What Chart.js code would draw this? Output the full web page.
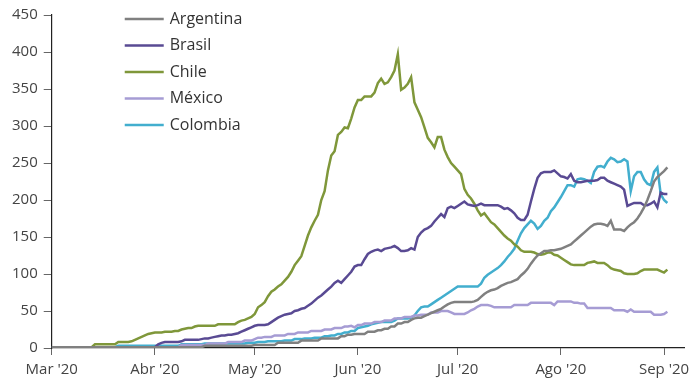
<!DOCTYPE html>
<html>
<head>
<meta charset="utf-8">
<script src="https://cdn.jsdelivr.net/npm/chart.js@4.4.1/dist/chart.umd.min.js"></script>
<style>
  html, body { margin: 0; padding: 0; background: #fff; }
</style>
</head>
<body>
<canvas id="chart" width="689" height="385"></canvas>
<script>
// daily series, 1 Mar 2020 (day 0) to 2 Sep 2020 (day 185)
var monthLabels = ["Mar '20", "Abr '20", "May '20", "Jun '20", "Jul '20", "Ago '20", "Sep '20"];
var monthStarts = [0, 31, 61, 92, 122, 153, 184];
var countries = ["Argentina", "Brasil", "Chile", "México", "Colombia"];
var colors = ["#808080", "#594a93", "#7f973a", "#a69cd4", "#42aece"];

var argentina = [
  1,1,1,1,1,1,1,1,1,1, 1,1,1,1,1,1,1,1,1,1, 1,1,1,1,1,1,1,1,1,1, 1,1,1,1,1,1,1,1,1,1,
  1,1,1,1,1,1,3,3,3,3, 3,3,3,3,3,3,3,3,3,3, 3,4,4,4,4,4,4,4,7,7, 7,7,7,7,7,10,10,10,10,10,
  10,13,13,13,13,13,13,16,16,18, 18,19,19,19,19,22,22,22,24,24, 26,26,29,29,33,33,35,35,38,40,
  41,41,43,45,47,49,51,53,56,59, 61,62,62,62,62,62,62,63,65,69, 73,76,78,79,81,84,86,88,89,91,
  93,98,102,107,114,120,125,128,131,131, 132,132,133,134,136,138,140,144,148,152,
  156,160,164,167,168,168,167,165,172,160, 160,160,158,163,167,170,175,182,190,200,
  212,225,231,235,239,244
];
var brasil = [
  1,1,1,1,1,1,1,1,1,1, 1,1,1,1,1,1,1,1,1,1, 1,1,1,1,1,1,1,1,1,1, 1,1,5,7,8,8,8,8,8,9,
  11,11,11,11,11,12,13,13,14,15, 16,17,17,18,18,19,20,22,24,26, 28,30,31,31,31,32,35,38,41,43,
  45,46,47,50,51,53,54,57,60,64, 68,71,75,79,83,88,91,88,93,98, 103,110,112,112,120,127,130,132,133,131,
  134,135,136,138,135,131,131,132,135,133, 150,156,160,162,165,171,176,181,177,189,
  191,189,192,195,198,194,193,192,193,195, 193,193,193,193,193,191,188,189,186,182,
  176,173,173,180,198,215,230,236,238,238, 238,240,236,232,231,229,235,226,224,224,
  225,226,226,226,227,230,230,226,224,222, 220,218,214,192,194,196,196,196,193,193,
  195,198,190,210,208,208
];
var chile = [
  1,1,1,1,1,1,1,1,1,1, 1,1,1,5,5,5,5,5,5,5, 8,8,8,8,9,11,13,15,17,19, 20,21,21,21,22,22,22,23,23,25,
  26,27,27,29,30,30,30,30,30,30, 32,32,32,32,32,32,35,37,38,40, 42,46,55,58,62,70,76,79,83,86,
  91,96,103,112,118,124,138,152,163,172, 180,200,212,240,260,266,288,292,298,297,
  310,325,335,335,340,340,340,345,358,364, 357,359,366,375,397,349,352,357,366,332,
  322,312,298,284,278,271,285,285,268,258, 250,245,240,235,215,207,202,195,186,179,
  182,176,170,167,162,157,152,148,145,140, 137,132,130,130,130,129,127,126,127,129,
  129,126,125,122,119,116,113,112,112,112, 112,115,116,117,115,115,115,112,108,106,
  105,104,101,100,100,100,101,104,106,106, 106,106,106,104,102,106
];
var mexico = [
  1,1,1,1,1,1,1,1,1,1, 1,1,1,1,1,1,1,1,1,1, 1,1,1,1,1,1,1,1,1,1, 1,1,1,1,1,1,1,1,1,4,
  4,4,4,4,4,4,4,6,6,6, 6,6,6,8,8,8,8,8,10,10, 10,12,14,14,15,15,15,17,17,17,
  17,19,19,19,21,21,21,21,23,23, 23,23,25,25,25,27,27,27,29,29, 30,28,31,31,33,33,33,35,35,35,
  37,37,37,40,40,40,42,42,42,44, 44,45,45,45,48,48,48,50,50,50, 48,46,46,46,46,48,51,53,56,58,
  58,58,57,55,55,55,55,55,55,58, 58,58,58,58,61,61,61,61,61,61, 61,58,63,63,63,63,63,61,61,60,
  60,54,54,54,54,54,54,54,54,51, 51,51,51,49,52,49,49,49,49,49, 49,45,45,45,46,49
];
var colombia = [
  1,1,1,1,1,1,1,1,1,1, 1,1,1,1,1,1,1,1,1,1, 3,3,3,3,3,3,3,3,3,3, 3,3,3,3,3,3,3,3,3,5,
  5,5,5,5,5,5,6,6,6,6, 6,6,6,6,6,6,6,6,6,7, 7,7,8,8,8,9,9,9,9,9,
  10,10,10,12,12,12,13,13,13,14, 14,14,16,16,17,17,19,19,21,21, 23,23,27,28,29,30,32,33,34,35,
  35,35,35,37,40,40,40,40,41,44, 50,55,56,56,59,62,65,68,71,74, 77,80,83,83,83,83,83,83,83,87,
  95,99,102,105,108,112,117,123,128,134, 145,155,162,167,172,168,161,165,172,176,
  185,190,197,204,212,220,220,218,228,229, 228,226,223,238,245,246,244,252,257,255,
  251,252,255,252,212,232,238,238,228,222, 220,238,244,208,200,196
];

var series = [argentina, brasil, chile, mexico, colombia];

function toPoints(values) {
  return values.map(function(v, i) { return { x: i, y: v }; });
}

var tickFont = { family: "'Open Sans', sans-serif", size: 15 };

// legend drawn inside the plot, stacked top-left
var lineLegend = {
  id: 'lineLegend',
  afterDatasetsDraw: function(chart) {
    var ctx = chart.ctx;
    var area = chart.chartArea;
    ctx.save();
    ctx.font = "16px 'Open Sans', sans-serif";
    ctx.textBaseline = 'middle';
    chart.data.datasets.forEach(function(ds, i) {
      var x = area.left + 73;
      var y = area.top + 4 + i * 26.5;
      ctx.strokeStyle = ds.borderColor;
      ctx.lineWidth = 2.5;
      ctx.beginPath();
      ctx.moveTo(x, y);
      ctx.lineTo(x + 39, y);
      ctx.stroke();
      ctx.fillStyle = '#333';
      ctx.fillText(ds.label, x + 45, y);
    });
    ctx.restore();
  }
};

var ctx = document.getElementById('chart').getContext('2d');
var chart = new Chart(ctx, {
  type: 'line',
  data: {
    datasets: countries.map(function(name, i) {
      return {
        label: name,
        data: toPoints(series[i]),
        borderColor: colors[i],
        backgroundColor: colors[i],
        borderWidth: 2.5,
        pointRadius: 0,
        tension: 0,
        fill: false
      };
    })
  },
  options: {
    responsive: false,
    animation: false,
    layout: { padding: { left: 6, right: 5, top: 7, bottom: 0 } },
    plugins: {
      legend: { display: false },
      tooltip: { enabled: false }
    },
    scales: {
      x: {
        type: 'linear',
        min: 0,
        max: 190,
        afterBuildTicks: function(axis) {
          axis.ticks = monthStarts.map(function(v) { return { value: v }; });
        },
        // let the last month label run to the canvas edge
        afterFit: function(axis) {
          axis.paddingRight = 0;
        },
        ticks: {
          font: tickFont,
          color: '#444',
          padding: 6,
          maxRotation: 0,
          autoSkip: false,
          callback: function(value) {
            var k = monthStarts.indexOf(value);
            return k >= 0 ? monthLabels[k] : '';
          }
        },
        grid: { drawOnChartArea: false, drawTicks: true, tickLength: 7, color: '#666' },
        border: { display: true, color: '#222', width: 1.2 }
      },
      y: {
        min: 0,
        max: 450,
        ticks: { stepSize: 50, font: tickFont, color: '#444', padding: 6 },
        grid: { drawOnChartArea: false, drawTicks: true, tickLength: 8, color: '#666' },
        border: { display: true, color: '#222', width: 1.2 }
      }
    }
  },
  plugins: [lineLegend]
});
</script>
</body>
</html>
